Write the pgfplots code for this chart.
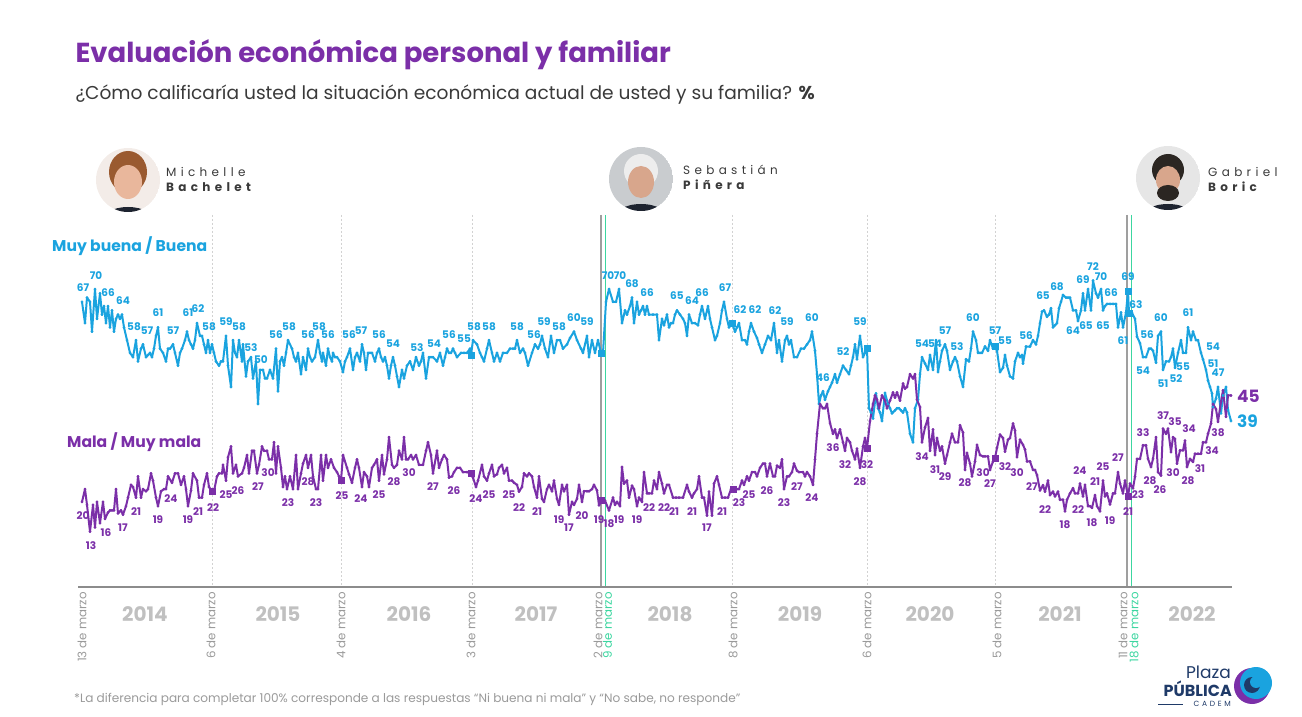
\documentclass[border=0pt]{standalone}
\usepackage{pgfplots}
\pgfplotsset{compat=1.18}
\usepackage{fontspec}
\setmainfont{Poppins}
\newfontfamily\spaced[LetterSpace=36]{Poppins}
\definecolor{cblue}{HTML}{1AA3DF}
\definecolor{cpurp}{HTML}{7B2FA8}
\definecolor{tgray}{HTML}{9A9A9A}
\definecolor{ygray}{HTML}{C0C0C0}
\definecolor{navy}{HTML}{1F3A68}
\definecolor{cgreen}{HTML}{3CD6A0}
\definecolor{dgray}{HTML}{3A3A3A}
\definecolor{avA}{HTML}{F3ECE8}
\definecolor{avB}{HTML}{1E2430}
\definecolor{avC}{HTML}{9A5A30}
\definecolor{avD}{HTML}{E9B79C}
\definecolor{avE}{HTML}{C9CCCF}
\definecolor{avF}{HTML}{EDEDED}
\definecolor{avG}{HTML}{D8A68C}
\definecolor{avH}{HTML}{E6E6E6}
\definecolor{avI}{HTML}{2B2622}
\begin{document}
\begin{tikzpicture}[x=1pt,y=1pt]
\useasboundingbox (0,0) rectangle (1302,716);
\begin{scope}[x=1pt,y=-1pt,shift={(0pt,716pt)}]
% titles
\node[anchor=west,text=cpurp,font=\fontsize{27.5}{30}\selectfont\bfseries] at (72,55) {Evaluación económica personal y familiar};
\node[anchor=west,text=dgray,font=\fontsize{18.6}{21}\selectfont] at (72,95) {¿Cómo calificaría usted la situación económica actual de usted y su familia? \textbf{\%}};
% grid
\foreach \gx in {212,341,472,732,867,995}
  \draw[gray!35,line width=0.8pt,dash pattern=on 2pt off 2pt] (\gx,215) -- (\gx,587);
\draw[gray!75,line width=1.4pt] (601,215) -- (601,587);
\draw[gray!75,line width=1.4pt] (1127,215) -- (1127,587);
\draw[cgreen,line width=1.3pt] (605.5,215) -- (605.5,587);
\draw[cgreen,line width=1.3pt] (1131.5,215) -- (1131.5,587);
\draw[gray!90,line width=1.5pt] (78,587) -- (1232,587);
\end{scope}
\begin{axis}[at={(78pt,129pt)},anchor=south west,scale only axis,
  width=1154pt,height=372pt,xmin=78,xmax=1232,ymin=0,ymax=87.4,
  hide axis,clip=false]
\addplot[cblue,line width=2pt,line join=round,mark=*,mark size=1.2pt,mark options={fill=cblue,line width=0.5pt}] coordinates {
(82,67)(85,62)(87,68)(90,67)(92,60)(95,70)(97,63)(100,69)(102,64)(104,66)(106,62)(108,66)(110,61)(112,65)(114,60)(116,63)(118,64)(120,63)(122,64)(124,61)(127,58)(130,55)(133,54)(136,58)(138,53)(141,56)(143,57)(146,54)(148,54.5)(150,55)(152,54)(154,56)(156,59)(158,61)(160,56)(163,55)(166,53)(168,56)(170,56)(173,57)(175,55)(178,52)(180,55)(182,56)(185,58)(187,60)(189,58)(191,57)(193,56)(195,58)(197,62)(200,59)(202,59)(204,57)(206,55)(208,58)(210,55)(212,57)(214,55)(216,53)(219,52)(221,53)(223,53)(226,59)(228,52)(231,47)(233,58)(235,55)(237,54)(239,58)(242,53)(243,57)(246,49.5)(248,53)(251,54)(253,49)(256,53)(258,43)(260,51)(263,51)(265,49)(267,49)(270,51)(273,49)(276,56)(278,46)(280,53)(282,54)(284,52)(286,55)(288,58)(292,56)(294,54)(296,53)(298,55)(301,50)(303,54)(306,51)(308,56)(310,54)(312,53)(315,54)(318,58)(320,55)(322,53)(323,55)(326,52)(328,56)(330,54)(332,53)(333,55)(335,54)(337,54)(340,53)(343,50.5)(345,53)(347,54)(350,56)(353,51)(355,54)(357,55)(360,53)(362,57)(364,55)(366,51)(368,55)(370,55)(372,55)(375,53)(377,55)(379,56)(381,54)(383,53)(385,54)(387,52)(389,49)(391,52)(393,54)(395,52)(397,49.5)(399,47)(402,51)(404,49)(407,52)(410,53)(413,51)(416,54)(419,52)(421,53)(423,55)(426,49)(429,54)(431,54)(433,54)(437,53)(440,55)(443,52)(445,54)(447,56)(449,55)(451,55)(453,56)(455,55)(457,54)(461,55)(464,55)(467,55)(470,56)(471,54.5)(473,58)(477,57)(480,55)(482,54)(484,53)(487,56)(489,58)(492,55)(494,53)(497,55)(500,53)(503,55)(507,55)(510,56)(513,56)(515,56)(517,58)(520,55)(523,56)(525,55)(528,52)(532,55)(535,57)(538,56)(540,57)(542,59)(545,56)(548,54)(551,59)(554,55)(557,58)(560,58)(563,56)(567,57)(570,58.5)(574,60)(577,58)(581,56)(583,55)(587,59)(589,54)(592,58)(595,55)(598,58)(601,55)(603,55)(606,67)(609,70)(613,67)(616,67)(619,70)(622,62)(625,65)(627,64)(630,66)(632,68)(634,62)(637,67)(639,64)(641,65)(643,66)(645,64)(647,66)(649,64)(653,64)(657,64)(659,58)(662,63)(664,61.5)(667,64)(669,61)(671,62)(673,62)(675,64)(677,65)(680,64)(683,63)(685,62)(687,59)(689,64)(692,62)(695,62)(698,61.5)(700,64)(702,66)(705,63)(708,66)(710,63)(712,61)(715,58)(717,59)(720,62)(722,65)(724,67)(727,63)(729,61)(732,62)(735,60)(737,61)(739,62)(742,58)(745,58)(747,57)(749,60)(751,62)(754,60)(757,58.5)(759,57)(762,55)(765,57)(768,59)(771,58)(774,62)(777,55)(779,58)(782,53)(785,58)(787,59)(789,57)(791,58)(794,54)(797,54)(801,56)(804,56)(807,57)(810,58)(812,60)(815,55.5)(817,50)(819,43)(821,45)(823,46)(825,44)(828,46)(830,47)(832,48)(835,50)(837,48)(840,50)(843,52)(846,51)(849,50)(851,52)(853,54)(855,57)(857,53.5)(860,59)(863,54)(865,55)(867,56)(869,42)(871,41)(873,39.6)(876,45.5)(878,42)(880,41)(882,39)(885,45.6)(888,43)(890,42)(892,40.8)(895,41.5)(897,42)(899,42)(901,41.5)(903,41)(905,42)(907,41)(910,36)(913,34)(915,42)(918,44)(920,50)(922,54)(925,52.5)(928,51)(930,54.5)(933,51)(936,58)(938,50.5)(940,53)(942,55.5)(945,57)(947,55.5)(950,51)(953,53)(955,54)(957,53)(960,49.5)(963,47)(966,53.5)(969,53)(971,56)(973,60)(976,58)(978,55)(980,55)(982,55)(985,56.5)(988,55.5)(990,58)(993,56)(995,56.5)(997,55.5)(1000,50.5)(1003,51.5)(1005,54.5)(1007,52)(1010,49.5)(1013,49)(1015,53)(1018,55)(1020,54)(1022,54.5)(1023,52.5)(1026,56.5)(1030,56.5)(1033,58)(1036,57)(1038,59)(1040,62)(1042,64.7)(1044,65)(1047,63.5)(1049,64)(1051,65.5)(1053,61)(1055,61.5)(1057,62)(1059,65.5)(1061,67)(1063,68.6)(1066,68)(1068,68)(1070,68)(1073,65)(1076,65)(1078,62.5)(1081,65)(1083,69)(1085,65)(1088,70)(1091,65)(1093,72)(1096,69)(1098,68)(1101,70)(1103,65)(1105,66)(1107,66.5)(1110,66.5)(1113,66.5)(1116,66.5)(1118,61)(1121,64.5)(1123,61)(1126,64.5)(1128,69.5)(1129,64.4)(1132,64.4)(1135,63)(1137,58.8)(1140,57.3)(1143,54)(1146,54)(1149,56)(1151,56)(1153,55.5)(1156,52.7)(1158,59)(1161,60)(1163,51)(1166,53)(1169,53)(1171,54)(1173,56)(1175,51.5)(1178,55)(1181,58)(1183,55)(1186,55)(1188,61)(1191,58)(1193,60)(1196,58)(1198,58)(1201,55)(1203,53.5)(1206,51)(1208,48.5)(1210,47)(1212,45.5)(1213,42.3)(1216,44.3)(1218,47)(1221,40.8)(1223,45)(1226,47)(1228,41.6)(1231,39)
};
\addplot[cpurp,line width=2pt,line join=round,mark=*,mark size=1.2pt,mark options={fill=cpurp,line width=0.5pt}] coordinates {
(82,20)(85,23)(87,19.3)(90,13)(93,19.3)(95,14)(97,20)(100,15)(103,20)(105,16)(108,17.5)(110,18)(112,18)(114,18)(116,23)(118,17.3)(121,18)(123,17)(126,19)(128,21)(131,24)(133,23.5)(136,21)(138,26)(141,21)(143,23)(146,22.5)(148,23)(151,26.7)(153,25)(156,21)(158,19)(161,22.5)(164,23)(166,23)(168,26)(172,24.5)(175,26.7)(178,26.7)(181,24)(184,26)(186,23)(188,19)(191,22.7)(193,26.7)(197,25)(199,21)(202,21)(204,24)(207,26.7)(209,23.5)(212,22.5)(214,22.5)(217,26)(219,26.7)(222,26.7)(223,28.7)(226,25)(228,30.5)(231,33)(233,26.7)(236,28.7)(238,26)(242,26.7)(244,28)(247,31)(249,26.7)(252,32)(254,32)(257,26.7)(259,28.7)(262,33)(264,32)(267,32)(269,30)(272,30)(274,34)(276,26.7)(278,33)(281,28)(283,23.5)(285,26)(287,23)(290,26)(293,23)(296,31)(298,23)(301,26.7)(303,29)(306,31)(308,28)(311,31)(313,26)(316,23)(318,23)(321,31)(323,25)(326,31)(328,28)(331,30)(334,28)(337,27)(339,26)(341,25)(343,31)(347,28)(349,26.5)(352,24.5)(355,28)(357,30)(359,28)(362,23.5)(364,27)(367,26)(369,23.5)(372,28)(374,28.7)(377,30)(379,25)(382,31)(384,26.5)(387,30)(389,35.2)(392,28.7)(394,28)(397,28.7)(399,32)(402,30)(404,35.2)(406,30)(408,30)(411,31)(413,30)(416,31)(419,28.7)(423,28.7)(426,32)(428,34)(431,31)(433,26.7)(437,32)(439,28)(442,30)(444,31)(447,30)(449,25.7)(452,26)(454,27)(457,28)(460,28)(463,27)(467,27)(471,26.7)(473,25.7)(476,23.5)(478,25)(482,28.7)(484,26)(487,25)(489,26.7)(492,28.7)(494,26)(497,26.5)(499,28)(502,28.7)(504,26.7)(507,28)(509,25)(512,25)(514,24.5)(517,24)(519,22.4)(522,23.5)(524,26.7)(527,26)(529,26.7)(532,26)(534,23.5)(537,21)(539,26)(542,20.7)(544,20)(547,23)(549,24)(552,22.5)(554,25)(557,20.7)(559,19.3)(562,24)(564,22.5)(567,24)(569,17)(572,20)(574,19.3)(577,20.7)(579,24)(582,20)(584,22.5)(587,22.5)(589,22.5)(592,23)(594,24)(597,22.7)(599,19.2)(602,20.3)(605,20.3)(609,18)(613,21)(615,19.3)(617,20)(620,19)(622,28.2)(624,24.3)(627,25)(629,21)(632,23.8)(634,23)(637,19)(639,21)(642,20)(644,27)(647,22)(649,22)(652,22)(654,25)(657,23)(659,27)(662,24.3)(664,22)(667,24)(669,24)(673,21)(676,21)(679,21)(683,21)(687,24)(689,22.4)(692,21)(694,22)(697,23)(699,26)(702,21)(704,21)(707,16.8)(709,22.4)(712,16.8)(714,24.3)(717,26)(719,24)(722,21)(725,21)(728,21)(731,23)(733,23)(737,23)(739,23)(742,25)(744,24)(747,26)(749,25)(752,27)(755,27)(757,26)(760,28)(763,29)(765,29)(767,26)(770,29)(773,26)(775,26)(777,28.5)(780,28)(782,30)(784,23)(787,26)(789,26)(792,27)(794,29)(797,27.3)(799,27)(803,27)(805,26)(807,27)(810,26)(813,24)(815,30)(817,36)(820,43)(823,42)(825,42)(827,43)(830,38.5)(833,36)(835,37)(837,35)(840,37)(843,34)(845,32)(847,35)(850,34)(852,32)(855,30)(857,32.5)(860,28)(863,33)(865,35)(867,32.5)(870,39)(873,43)(875,45)(877,44)(879,42)(882,45)(885,43.8)(887,42)(890,43.8)(893,45.7)(895,44.5)(897,45.7)(900,43.8)(903,47.8)(905,46.6)(907,47)(910,50)(913,49)(915,50)(917,44)(920,42.3)(922,34)(925,37.5)(928,39.7)(930,32)(933,37)(935,31)(937,35)(940,32)(942,33)(945,29)(947,31)(950,34)(952,36)(955,34)(958,34)(960,38)(963,36.3)(965,27.5)(967,31.5)(970,29)(972,26)(975,29.5)(977,33.4)(980,31)(983,30.7)(985,30.7)(988,30.7)(990,27.5)(993,29.5)(995,30.3)(997,32.7)(1000,35.8)(1003,35)(1005,31.8)(1008,34.6)(1010,35)(1013,38.4)(1015,36.8)(1017,30.5)(1020,34.6)(1023,33.4)(1025,32.3)(1027,29.5)(1030,29.5)(1033,27.5)(1035,27.5)(1037,26.3)(1040,22.7)(1043,23.9)(1045,22.4)(1048,25)(1050,21.6)(1053,22.4)(1055,21.3)(1058,22.4)(1060,20.5)(1063,20.5)(1065,17.8)(1067,20.5)(1070,22)(1073,23.2)(1075,22)(1078,22)(1080,24.3)(1083,21.3)(1085,24)(1088,19)(1090,19)(1092,18.6)(1095,21.6)(1097,19)(1100,17.8)(1103,25)(1105,21.3)(1107,22)(1110,19.4)(1113,22)(1115,22)(1118,27)(1120,24.3)(1123,22)(1125,25)(1128,21.3)(1130,24.3)(1133,23.2)(1135,25.9)(1137,30.1)(1140,30.1)(1143,33.3)(1146,33.3)(1148,30.1)(1151,28.2)(1153,30.1)(1156,35.2)(1158,27)(1161,26.2)(1163,37.2)(1166,36)(1168,37.2)(1171,31.7)(1173,35.2)(1175,34.8)(1177,29)(1180,32.1)(1183,32.1)(1185,34.4)(1187,28.2)(1190,30.1)(1193,29.4)(1195,31.3)(1198,31.3)(1201,31.3)(1203,34)(1206,34)(1208,36)(1211,38.4)(1213,43)(1216,41.8)(1218,38.8)(1221,43.6)(1223,46.2)(1226,40)(1228,45)(1231,45)
};
\addplot[only marks,mark=square*,mark size=3pt,cblue] coordinates {(471,54.5)(601,55)(732,62)(867,56)(995,56.5)(1128,69.5)(1129,64.4)};
\addplot[only marks,mark=square*,mark size=3pt,cpurp] coordinates {(212,22.5)(341,25)(471,26.7)(601,20.3)(733,23)(867,32.5)(995,30.3)(1128,21.3)};
\end{axis}
\begin{scope}[x=1pt,y=-1pt,shift={(0pt,716pt)}]
% value labels
\foreach \lx/\ly/\lt in {83/288/67,96/276/70,108/293/66,123/301/64,134/327/58,147/331/57,158/313/61,173/331/57,188/313/61,198/309/62,209/327/58,226/322/59,239/327/58,251/348/53,261/360/50,276/335/56,289/327/58,308/335/56,319/327/58,328/335/56,349/335/56,361/331/57,379/335/56,393/344/54,417/348/53,434/344/54,449/335/56,464/339/55,474/327/58,489/327/58,517/327/58,534/335/56,544/322/59,559/327/58,574/318/60,587/322/59,608/276/70,620/276/70,632/284/68,647/293/66,677/296/65,692/301/64,702/293/66,725/288/67,740/310/62,755/310/62,775/311/62,787/322/59,812/318/60,823/378/46,843/352/52,860/322/59,922/344/54,935/344/54,945/331/57,957/347/53,973/318/60,995/331/57,1005/341/55,1026/336/56,1043/296/65,1057/287/68,1073/331/64,1086/326/65,1083/280/69,1093/267/72,1101/277/70,1111/293/66,1103/326/65,1123/341/61,1128/277/69,1136/305/63,1147/335/56,1143/371/54,1161/318/60,1163/384/51,1176/379/52,1183/367/55,1188/313/61,1213/347/54,1213/364/51,1218/373/47}
  \node[text=cblue,font=\fontsize{10.5}{11}\selectfont\bfseries,inner sep=0pt] at (\lx,\ly) {\lt};
\foreach \lx/\ly/\lt in {83/516/20,91/546/13,106/533/16,123/528/17,136/512/21,158/520/19,171/499/24,188/520/19,198/512/21,213/508/22,226/495/25,238/491/26,258/487/27,268/473/30,288/503/23,308/482/28,316/503/23,342/496/25,361/499/24,379/495/25,394/482/28,409/473/30,433/487/27,454/491/26,476/499/24,489/495/25,509/495/25,519/508/22,537/512/21,559/520/19,569/528/17,582/516/20,599/520/19,609/524/18,619/520/19,637/520/19,649/508/22,664/508/22,674/512/21,692/512/21,707/528/17,722/512/21,739/503/23,749/495/25,767/491/26,784/503/23,797/487/27,812/498/24,833/448/36,845/465/32,860/482/28,867/465/32,922/457/34,935/470/31,945/477/29,965/483/28,983/473/30,990/484/27,1005/467/32,1017/473/30,1032/487/27,1045/510/22,1065/525/18,1078/510/22,1080/471/24,1092/523/18,1095/482/21,1110/521/19,1103/467/25,1118/458/27,1128/512/21,1138/495/23,1143/433/33,1150/481/28,1160/490/26,1163/416/37,1175/422/35,1189/429/34,1173/473/30,1188/481/28,1200/469/31,1212/451/34,1218/433/38}
  \node[text=cpurp,font=\fontsize{10.5}{11}\selectfont\bfseries,inner sep=0pt] at (\lx,\ly) {\lt};
\node[anchor=west,text=cpurp,font=\fontsize{17}{18}\selectfont\bfseries,inner sep=0pt] at (1237,396) {45};
\node[anchor=west,text=cblue,font=\fontsize{17}{18}\selectfont\bfseries,inner sep=0pt] at (1237,421) {39};
% series names
\node[anchor=west,text=cblue,font=\fontsize{15.6}{16}\selectfont\bfseries,inner sep=0pt] at (52,246) {Muy buena / Buena};
\node[anchor=west,text=cpurp,font=\fontsize{15.6}{16}\selectfont\bfseries,inner sep=0pt] at (67,442) {Mala / Muy mala};
% date ticks
\foreach \dx/\dt in {82/13 de marzo,211/6 de marzo,341/4 de marzo,471/3 de marzo,598/2 de marzo,733/8 de marzo,867/6 de marzo,997/5 de marzo,1123/11 de marzo}
  \node[rotate=90,anchor=east,text=tgray,font=\fontsize{11.8}{12}\selectfont,inner sep=0pt] at (\dx,592) {\dt};
\node[rotate=90,anchor=east,text=cgreen,font=\fontsize{11.8}{12}\selectfont,inner sep=0pt] at (607.5,592) {9 de marzo};
\node[rotate=90,anchor=east,text=cgreen,font=\fontsize{11.8}{12}\selectfont,inner sep=0pt] at (1134,592) {18 de marzo};
\foreach \yx/\yt in {145/2014,278/2015,409/2016,536/2017,670/2018,800/2019,930/2020,1060/2021,1192/2022}
  \node[text=ygray,font=\fontsize{20}{22}\selectfont\bfseries,inner sep=0pt] at (\yx,614) {\yt};
% footnote
\node[anchor=west,text=tgray,font=\fontsize{12.1}{13}\selectfont,inner sep=0pt] at (74,699) {*La diferencia para completar 100\% corresponde a las respuestas “Ni buena ni mala” y “No sabe, no responde”};
% avatars
\begin{scope}
\clip (128,180) circle (32);
\fill[avA] (128,180) circle (32);
\fill[avB] (128,223) ellipse (28 and 16);
\fill[avC] (128,172) ellipse (19 and 21);
\fill[avD] (128,182) ellipse (14 and 17);
\end{scope}
\begin{scope}
\clip (641,179) circle (32);
\fill[avE] (641,179) circle (32);
\fill[avB] (641,222) ellipse (30 and 18);
\fill[avF] (641,171) ellipse (17 and 17);
\fill[avG] (641,182) ellipse (13 and 16);
\end{scope}
\begin{scope}
\clip (1168,178) circle (32);
\fill[avH] (1168,178) circle (32);
\fill[avB] (1168,222) ellipse (30 and 18);
\fill[avI] (1168,170) ellipse (16 and 16);
\fill[avG] (1168,180) ellipse (12 and 14);
\fill[avI] (1168,193) ellipse (11 and 8);
\end{scope}
% names
\node[anchor=west,text=dgray,font=\fontsize{12}{13}\selectfont\spaced,inner sep=0pt] at (166,172) {Michelle};
\node[anchor=west,text=dgray,font=\fontsize{12}{13}\selectfont\spaced\bfseries,inner sep=0pt] at (166,187) {Bachelet};
\node[anchor=west,text=dgray,font=\fontsize{12}{13}\selectfont\spaced,inner sep=0pt] at (683,170) {Sebastián};
\node[anchor=west,text=dgray,font=\fontsize{12}{13}\selectfont\spaced\bfseries,inner sep=0pt] at (683,185) {Piñera};
\node[anchor=west,text=dgray,font=\fontsize{12}{13}\selectfont\spaced,inner sep=0pt] at (1208,172) {Gabriel};
\node[anchor=west,text=dgray,font=\fontsize{12}{13}\selectfont\spaced\bfseries,inner sep=0pt] at (1208,187) {Boric};
% logo
\node[anchor=east,text=navy,font=\fontsize{17}{18}\selectfont,inner sep=0pt] at (1231,672) {Plaza};
\node[anchor=east,text=navy,font=\fontsize{16}{17}\selectfont\bfseries,inner sep=0pt] at (1232,689) {PÚBLICA};
\node[anchor=east,text=navy,font=\fontsize{7.5}{8}\selectfont\spaced,inner sep=0pt] at (1231,704) {CADEM};
\draw[navy,line width=1pt] (1158,704) -- (1183,704);
\fill[cpurp] (1252,686) circle (18);
\fill[cblue] (1256,683) circle (16);
\fill[navy] (1252,685) circle (8);
\fill[cblue] (1256,682) circle (6);
\end{scope}
\end{tikzpicture}
\end{document}
